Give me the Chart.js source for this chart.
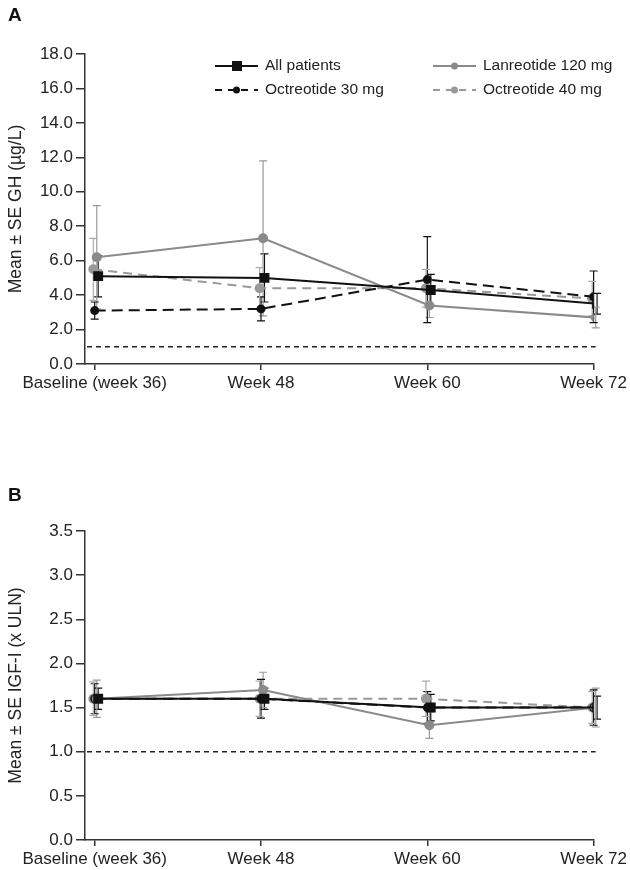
<!DOCTYPE html>
<html>
<head>
<meta charset="utf-8">
<script src="https://cdn.jsdelivr.net/npm/chart.js@4.4.1/dist/chart.umd.min.js"></script>
<style>
body{margin:0;background:#fff;width:630px;height:870px;position:relative;overflow:hidden;font-family:"Liberation Sans",Arial,sans-serif}
.panel{position:absolute;left:0;width:630px}
.tag{position:absolute;left:8px;font-weight:bold;font-size:19px;color:#111}
</style>
</head>
<body>
<div class="panel" style="top:0;height:420px"><canvas id="ghChart"></canvas></div>
<div class="panel" style="top:460px;height:410px"><canvas id="igfChart"></canvas></div>
<div class="tag" style="top:4px">A</div>
<div class="tag" style="top:484px">B</div>
<script>
// time points
const weeks = [36, 48, 60, 72];
const xLabels = ['Baseline (week 36)', 'Week 48', 'Week 60', 'Week 72'];
const seriesNames = ['All patients', 'Lanreotide 120 mg', 'Octreotide 30 mg', 'Octreotide 40 mg'];

// panel A: GH (µg/L), mean and SE
const ghAll = [5.1, 5.0, 4.3, 3.5];
const ghAllSe = [1.2, 1.4, 0.9, 0.6];
const ghLan = [6.2, 7.3, 3.4, 2.7];
const ghLanSe = [3.0, 4.5, 0.7, 0.6];
const ghOct30 = [3.1, 3.2, 4.9, 3.9];
const ghOct30Se = [0.5, 0.7, 2.5, 1.5];
const ghOct40 = [5.5, 4.4, 4.4, 3.8];
const ghOct40Se = [1.8, 1.2, 1.1, 1.0];
const ghLimit = 1.0;

// panel B: IGF-I (x ULN), mean and SE
const igfAll = [1.6, 1.6, 1.5, 1.5];
const igfAllSe = [0.12, 0.12, 0.15, 0.13];
const igfLan = [1.6, 1.7, 1.3, 1.5];
const igfLanSe = [0.21, 0.2, 0.15, 0.22];
const igfOct30 = [1.6, 1.6, 1.5, 1.5];
const igfOct30Se = [0.17, 0.22, 0.18, 0.2];
const igfOct40 = [1.6, 1.6, 1.6, 1.5];
const igfOct40Se = [0.19, 0.2, 0.2, 0.18];
const igfLimit = 1.0;

const FONT = '"Liberation Sans", Arial, sans-serif';
const TXT = '#222';

// look of each series (all, lanreotide, oct 30, oct 40)
const styles = [
  {color: '#111', dash: [], point: 'rect', radius: 7, dodge: 0.25, bar: '#111'},
  {color: '#8a8a8a', dash: [], point: 'circle', radius: 5, dodge: 0.15, bar: '#999'},
  {color: '#111', dash: [11, 6], point: 'circle', radius: 4.5, dodge: 0.0, bar: '#111'},
  {color: '#999', dash: [9, 6], point: 'circle', radius: 5, dodge: -0.1, bar: '#aaa'}
];

function makeSets(means, ses) {
  return means.map((m, i) => {
    const s = styles[i];
    return {
      label: seriesNames[i],
      data: m.map((v, j) => ({x: weeks[j] + s.dodge, y: v})),
      se: ses[i],
      borderColor: s.color,
      backgroundColor: s.color,
      borderDash: s.dash,
      borderWidth: 2,
      pointStyle: s.point,
      pointRadius: s.radius,
      pointBorderWidth: 0,
      barColor: s.bar,
      tension: 0
    };
  });
}

const errorBars = {
  id: 'errorBars',
  beforeDatasetsDraw(chart) {
    const ctx = chart.ctx, y = chart.scales.y, x = chart.scales.x;
    ctx.save();
    ctx.lineWidth = 1.2;
    chart.data.datasets.forEach(ds => {
      ctx.strokeStyle = ds.barColor;
      ds.data.forEach((p, j) => {
        const px = x.getPixelForValue(p.x);
        const top = y.getPixelForValue(p.y + ds.se[j]);
        const bot = y.getPixelForValue(p.y - ds.se[j]);
        ctx.beginPath();
        ctx.moveTo(px, top); ctx.lineTo(px, bot);
        ctx.moveTo(px - 4, top); ctx.lineTo(px + 4, top);
        ctx.moveTo(px - 4, bot); ctx.lineTo(px + 4, bot);
        ctx.stroke();
      });
    });
    ctx.restore();
  }
};

const refLine = {
  id: 'refLine',
  beforeDatasetsDraw(chart, args, opts) {
    const ctx = chart.ctx, a = chart.chartArea;
    const py = chart.scales.y.getPixelForValue(opts.value);
    ctx.save();
    ctx.strokeStyle = '#222';
    ctx.lineWidth = 1.5;
    ctx.setLineDash([5, 4]);
    ctx.beginPath();
    ctx.moveTo(a.left + 2, py); ctx.lineTo(a.right + 2, py);
    ctx.stroke();
    ctx.restore();
  }
};

const gridLegend = {
  id: 'gridLegend',
  afterDraw(chart, args, opts) {
    if (!opts.show) return;
    const ctx = chart.ctx;
    ctx.save();
    chart.data.datasets.forEach((ds, i) => {
      const s = styles[i];
      const x0 = [215, 433][i % 2];
      const yy = [66, 90][Math.floor(i / 2)];
      ctx.strokeStyle = s.color;
      ctx.lineWidth = 2;
      ctx.setLineDash(s.dash.length ? [7, 6] : []);
      ctx.beginPath();
      ctx.moveTo(x0, yy); ctx.lineTo(x0 + 43, yy);
      ctx.stroke();
      ctx.setLineDash([]);
      ctx.fillStyle = s.color;
      if (s.point === 'rect') {
        ctx.fillRect(x0 + 17, yy - 5, 10, 10);
      } else {
        ctx.beginPath();
        ctx.arc(x0 + 21.5, yy, 3.5, 0, Math.PI * 2);
        ctx.fill();
      }
      ctx.fillStyle = TXT;
      ctx.font = '15.5px ' + FONT;
      ctx.textBaseline = 'middle';
      ctx.fillText(ds.label, x0 + 50, yy);
    });
    ctx.restore();
  }
};

function makeChart(id, sets, yMax, yStep, yTitle, limit, pad, xHeight, legend) {
  return new Chart(document.getElementById(id), {
    type: 'line',
    data: {datasets: sets},
    plugins: [errorBars, refLine, gridLegend],
    options: {
      responsive: true,
      maintainAspectRatio: false,
      animation: false,
      layout: {padding: pad},
      plugins: {
        legend: {display: false},
        tooltip: {enabled: false},
        refLine: {value: limit},
        gridLegend: {show: legend}
      },
      scales: {
        x: {
          type: 'linear',
          min: 35.3,
          max: 72,
          afterBuildTicks(s) { s.ticks = weeks.map(v => ({value: v})); },
          afterFit(s) { s.height = xHeight; },
          ticks: {
            autoSkip: false, maxRotation: 0, color: TXT, padding: 3,
            font: {size: 17, family: FONT},
            callback: v => xLabels[weeks.indexOf(v)]
          },
          grid: {drawOnChartArea: false, tickLength: 6, color: '#333', lineWidth: 1.5},
          border: {color: '#333', width: 1.5}
        },
        y: {
          min: 0,
          max: yMax,
          afterFit(s) { s.width = 85; },
          ticks: {
            stepSize: yStep, color: TXT, padding: 3,
            font: {size: 17, family: FONT},
            callback: v => v.toFixed(1)
          },
          grid: {drawOnChartArea: false, tickLength: 9, color: '#333', lineWidth: 1.5},
          border: {color: '#333', width: 1.5},
          title: {
            display: true, text: yTitle, color: TXT,
            font: {size: 17.5, family: FONT}, padding: {top: 6, bottom: 0}
          }
        }
      }
    }
  });
}

makeChart('ghChart',
  makeSets([ghAll, ghLan, ghOct30, ghOct40], [ghAllSe, ghLanSe, ghOct30Se, ghOct40Se]),
  18, 2, 'Mean ± SE GH (µg/L)', ghLimit,
  {top: 54, right: 36, left: 0, bottom: 0}, 56, true);

makeChart('igfChart',
  makeSets([igfAll, igfLan, igfOct30, igfOct40], [igfAllSe, igfLanSe, igfOct30Se, igfOct40Se]),
  3.5, 0.5, 'Mean ± SE IGF-I (x ULN)', igfLimit,
  {top: 71, right: 36, left: 0, bottom: 0}, 30, false);
</script>
</body>
</html>
